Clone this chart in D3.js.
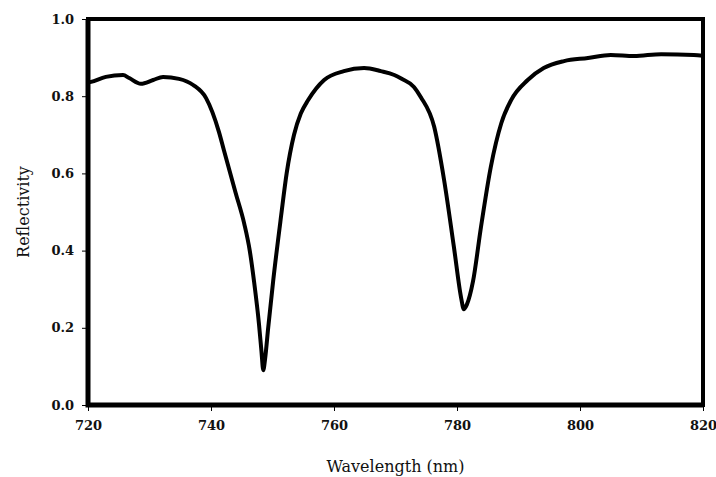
<!DOCTYPE html>
<html>
<head>
<meta charset="utf-8">
<script src="https://cdn.jsdelivr.net/npm/d3@7"></script>
<style>
  body { margin: 0; background: #fff; }
  .tick text { font-family: "DejaVu Serif", serif; font-weight: bold; font-size: 13px; fill: #111; }
  .title { font-family: "DejaVu Serif", serif; font-size: 16px; fill: #111; }
</style>
</head>
<body>
<script>
// spectrum
const wavelength = [720, 720.5, 722.9, 725.7, 726.7, 728.6, 730.6, 732.2, 734.8, 737.1, 739.2, 741.3,
  742.1, 744.0, 745.4, 746.3, 747.0, 747.8, 748.2, 748.5, 748.8, 749.3, 750.1, 751.4, 752.3, 753.5,
  754.6, 755.8, 758.4, 761.6, 764.9, 767.6, 769.8, 771.0, 773.0, 774.1, 776.3, 777.9, 779.5, 780.7,
  781.1, 781.6, 782.6, 783.9, 785.5, 787.2, 788.8, 791.5, 794.1, 797.4, 801.3, 805.0, 808.8, 813.2,
  818.5, 820]
const reflectivity = [0.835, 0.837, 0.85, 0.855, 0.847, 0.832, 0.842, 0.85, 0.845, 0.829, 0.795, 0.707,
  0.66, 0.55, 0.47, 0.40, 0.32, 0.21, 0.14, 0.09, 0.12, 0.20, 0.32, 0.49, 0.6, 0.70,
  0.755, 0.79, 0.842, 0.865, 0.873, 0.865, 0.855, 0.845, 0.824, 0.798, 0.72, 0.583, 0.409, 0.275,
  0.248, 0.26, 0.32, 0.461, 0.617, 0.73, 0.79, 0.842, 0.873, 0.891, 0.899, 0.907, 0.904, 0.909,
  0.907, 0.905]
const xTicks = [720, 740, 760, 780, 800, 820]
const yTicks = [0, 0.2, 0.4, 0.6, 0.8, 1.0]

const width = 716, height = 477
const margin = {top: 19, right: 13, bottom: 72, left: 88}

const svg = d3.select('body')
    .append('svg')
    .attr('width', width)
    .attr('height', height)

const x = d3.scaleLinear()
    .domain([720, 820])
    .range([margin.left, width - margin.right])
const y = d3.scaleLinear()
    .domain([0, 1])
    .range([height - margin.bottom, margin.top])

const xAxis = d3.axisBottom(x).tickValues(xTicks).tickSize(6).tickPadding(10).tickFormat(d3.format('d'))
const yAxis = d3.axisLeft(y).tickValues(yTicks).tickSize(6).tickPadding(8).tickFormat(d3.format('.1f'))

svg.append('g')
    .attr('transform', 'translate(0,' + (height - margin.bottom) + ')')
    .call(xAxis)
    .call(g => g.select('.domain').remove())
svg.append('g')
    .attr('transform', 'translate(' + margin.left + ',0)')
    .call(yAxis)
    .call(g => g.select('.domain').remove())

// frame
svg.append('rect')
    .attr('x', x(720))
    .attr('y', y(1))
    .attr('width', x(820) - x(720))
    .attr('height', y(0) - y(1))
    .attr('fill', 'none')
    .attr('stroke', '#000')
    .attr('stroke-width', 4)
svg.append('path')
    .attr('d', 'M' + x(720) + ',' + y(1) + 'V' + y(0) + 'H' + x(820))
    .attr('fill', 'none')
    .attr('stroke', '#000')
    .attr('stroke-width', 5)

const data = wavelength.map((w, i) => ({w: w, r: reflectivity[i]}))
const line = d3.line()
    .x(d => x(d.w))
    .y(d => y(d.r))
    .curve(d3.curveMonotoneX)

svg.append('path')
    .datum(data)
    .attr('d', line)
    .attr('fill', 'none')
    .attr('stroke', '#000')
    .attr('stroke-width', 4)
    .attr('stroke-linejoin', 'round')
    .attr('stroke-linecap', 'round')

svg.append('text')
    .attr('class', 'title')
    .attr('x', (x(720) + x(820)) / 2)
    .attr('y', 472)
    .attr('text-anchor', 'middle')
    .text('Wavelength (nm)')
svg.append('text')
    .attr('class', 'title')
    .attr('transform', 'translate(29,' + y(0.5) + ') rotate(-90)')
    .attr('text-anchor', 'middle')
    .text('Reflectivity')
</script>
</body>
</html>
